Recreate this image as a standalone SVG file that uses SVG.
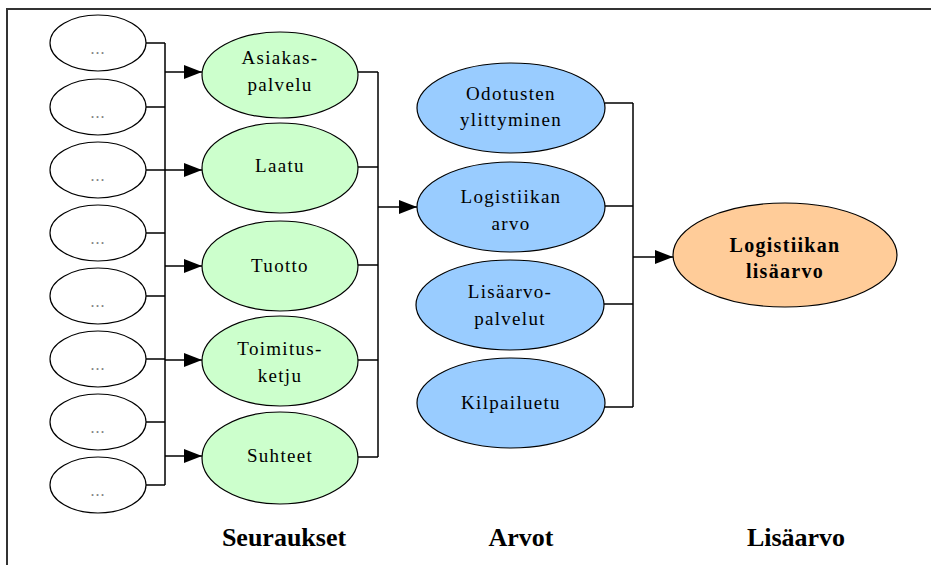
<svg xmlns="http://www.w3.org/2000/svg" width="931" height="565" viewBox="0 0 931 565">
<style>
  .bg { fill: #ffffff; }
  .frame { fill: none; stroke: #333333; stroke-width: 2; }
  .small { fill: #ffffff; stroke: #000000; stroke-width: 1.2; }
  .green { fill: #CCFFCC; stroke: #000000; stroke-width: 1.2; }
  .blue { fill: #99CCFF; stroke: #000000; stroke-width: 1.2; }
  .orange { fill: #FFCC99; stroke: #000000; stroke-width: 1.2; }
  .dots { font-family: "Liberation Serif", serif; font-size: 16px; fill: #808080; text-anchor: middle; letter-spacing: 1px; }
  .lbl { font-family: "Liberation Serif", serif; font-size: 19px; fill: #000000; text-anchor: middle; letter-spacing: 1.3px; }
  .blbl { font-family: "Liberation Serif", serif; font-size: 20px; font-weight: bold; fill: #000000; text-anchor: middle; letter-spacing: 1.3px; }
  .cap { font-family: "Liberation Serif", serif; font-size: 26px; font-weight: bold; fill: #000000; text-anchor: middle; }
  .wire { fill: none; stroke: #000000; stroke-width: 1.5; }
</style>
<defs>
  <marker id="arr" markerWidth="18" markerHeight="14" refX="18" refY="7" orient="auto" markerUnits="userSpaceOnUse">
    <path d="M0,0 L18,7 L0,14 z" fill="#000000"/>
  </marker>
</defs>
<rect class="bg" x="0" y="0" width="931" height="565"/>
<rect class="frame" x="7" y="9" width="940" height="580"/>

<g id="connectors">
  <!-- small ellipses to vertical bus -->
  <path class="wire" d="M146,43 H165 M146,107 H165 M146,170 H165 M146,233 H165 M146,296 H165 M146,359 H165 M146,422 H165 M146,485 H165 M165,43 V485"/>
  <path class="wire" d="M165,72 H202" marker-end="url(#arr)"/>
  <path class="wire" d="M165,170 H202" marker-end="url(#arr)"/>
  <path class="wire" d="M165,266 H202" marker-end="url(#arr)"/>
  <path class="wire" d="M165,360 H202" marker-end="url(#arr)"/>
  <path class="wire" d="M165,456 H202" marker-end="url(#arr)"/>
  <!-- green to blue -->
  <path class="wire" d="M357,72 H378 M357,167 H378 M357,265 H378 M357,360 H378 M357,457 H378 M378,72 V457"/>
  <path class="wire" d="M378,207 H417" marker-end="url(#arr)"/>
  <!-- blue to orange -->
  <path class="wire" d="M605,103 H633 M605,206 H633 M604,304 H633 M605,407 H633 M633,103 V407"/>
  <path class="wire" d="M633,257 H673" marker-end="url(#arr)"/>
</g>

<g id="s1"><ellipse class="small" cx="98" cy="43" rx="48" ry="28"/><text class="dots" x="98" y="54">...</text></g>
<g id="s2"><ellipse class="small" cx="98" cy="107" rx="48" ry="28"/><text class="dots" x="98" y="118">...</text></g>
<g id="s3"><ellipse class="small" cx="98" cy="170" rx="48" ry="28"/><text class="dots" x="98" y="181">...</text></g>
<g id="s4"><ellipse class="small" cx="98" cy="233" rx="48" ry="28"/><text class="dots" x="98" y="244">...</text></g>
<g id="s5"><ellipse class="small" cx="98" cy="296" rx="48" ry="28"/><text class="dots" x="98" y="307">...</text></g>
<g id="s6"><ellipse class="small" cx="98" cy="359" rx="48" ry="28"/><text class="dots" x="98" y="370">...</text></g>
<g id="s7"><ellipse class="small" cx="98" cy="422" rx="48" ry="28"/><text class="dots" x="98" y="433">...</text></g>
<g id="s8"><ellipse class="small" cx="98" cy="485" rx="48" ry="28"/><text class="dots" x="98" y="496">...</text></g>

<g id="asiakaspalvelu"><ellipse class="green" cx="280" cy="75" rx="78" ry="43"/><text class="lbl" x="280" y="64">Asiakas-</text><text class="lbl" x="280" y="91">palvelu</text></g>
<g id="laatu"><ellipse class="green" cx="280" cy="168" rx="78" ry="45"/><text class="lbl" x="280" y="172">Laatu</text></g>
<g id="tuotto"><ellipse class="green" cx="280" cy="266" rx="78" ry="45"/><text class="lbl" x="280" y="272">Tuotto</text></g>
<g id="toimitusketju"><ellipse class="green" cx="280" cy="361" rx="78" ry="45"/><text class="lbl" x="280" y="355">Toimitus-</text><text class="lbl" x="280" y="382">ketju</text></g>
<g id="suhteet"><ellipse class="green" cx="280" cy="458" rx="78" ry="46"/><text class="lbl" x="280" y="462">Suhteet</text></g>

<g id="odotusten"><ellipse class="blue" cx="511" cy="108" rx="94" ry="45"/><text class="lbl" x="511" y="100">Odotusten</text><text class="lbl" x="511" y="126">ylittyminen</text></g>
<g id="logistiikanarvo"><ellipse class="blue" cx="511" cy="207" rx="94" ry="45"/><text class="lbl" x="511" y="203">Logistiikan</text><text class="lbl" x="511" y="230">arvo</text></g>
<g id="lisaarvopalvelut"><ellipse class="blue" cx="510" cy="305" rx="94" ry="45"/><text class="lbl" x="510" y="298">Lisäarvo-</text><text class="lbl" x="510" y="325">palvelut</text></g>
<g id="kilpailuetu"><ellipse class="blue" cx="511" cy="403" rx="94" ry="45"/><text class="lbl" x="511" y="409">Kilpailuetu</text></g>

<g id="logistiikanlisaarvo"><ellipse class="orange" cx="785" cy="255" rx="112" ry="52"/><text class="blbl" x="785" y="252">Logistiikan</text><text class="blbl" x="785" y="278">lisäarvo</text></g>

<g id="captions">
  <text class="cap" x="284" y="546">Seuraukset</text>
  <text class="cap" x="521" y="546">Arvot</text>
  <text class="cap" x="796" y="546">Lisäarvo</text>
</g>
</svg>
